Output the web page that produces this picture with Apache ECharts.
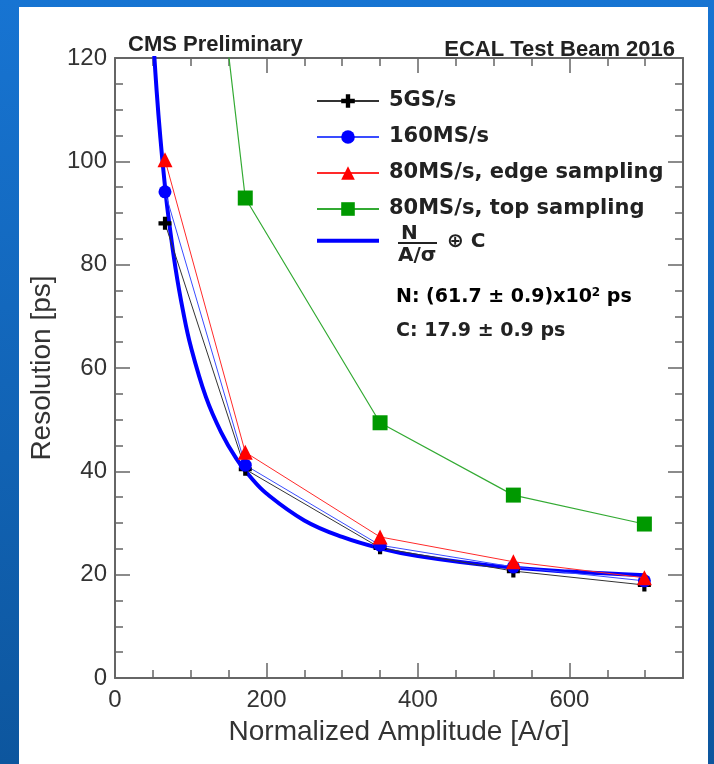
<!DOCTYPE html>
<html>
<head>
    <title></title>
    <meta charset="UTF-8">
    <script type="text/javascript" src="https://cdn.jsdelivr.net/npm/echarts@6/dist/echarts.min.js"></script>
    <style type="text/css">
        body {
            margin: 0;
            width: 714px;
            height: 764px;
            overflow: hidden;
            background: linear-gradient(to bottom, #1774d2, #0d569e);
        }
        #panel {
            position: absolute;
            left: 19px;
            top: 7px;
            width: 689px;
            height: 757px;
            background: #fff;
        }
        #res_chart {
            position: absolute;
            left: 0;
            top: 0;
            width: 714px;
            height: 764px;
        }
    </style>
</head>
<body>
<div id="panel"></div>
<div id="res_chart"></div>

<script type="text/javascript">
    // points
    var ampX = [66, 172, 350, 526, 699];
    var res5GS = [88.0, 40.4, 25.2, 20.7, 18.0];
    var res160MS = [94.1, 41.2, 25.7, 21.5, 18.8];
    var res80Edge = [100.3, 43.7, 27.3, 22.5, 19.4];
    var res80Top = [227, 92.9, 49.4, 35.4, 29.8];   // first one is off the top

    // the fitted curve, read along its length
    var fitX = [50, 55, 60, 65, 70, 80, 90, 100, 120, 140, 160, 180, 200, 250, 300, 350, 400, 500, 600, 700];
    var fitY = [124.7, 113.6, 104.4, 96.6, 89.9, 79.2, 70.9, 64.2, 54.4, 47.6, 42.5, 38.7, 35.7, 30.5, 27.3, 25.1, 23.6, 21.7, 20.6, 19.9];

    var xMajor = [0, 200, 400, 600];
    var xMinor = [50, 100, 150, 250, 300, 350, 450, 500, 550, 650, 700];

    function pairs(xs, ys) {
        return xs.map(function (x, i) { return [x, ys[i]]; });
    }

    var axisCol = '#666';
    var plus = 'path://M3.4,0H6.6V3.4H10V6.6H6.6V10H3.4V6.6H0V3.4H3.4Z';

    function xAx(pos, major, label) {
        return {
            type: 'value', position: pos, min: 0, max: 750, interval: major ? 200 : 50,
            axisLine: {show: major, onZero: false, lineStyle: {color: axisCol, width: 2}},
            axisTick: {inside: true, length: major ? 15 : 8, customValues: major ? xMajor : xMinor,
                lineStyle: {color: axisCol, width: 1.5}},
            axisLabel: {show: label, customValues: xMajor, margin: 10, color: '#333',
                fontFamily: 'Liberation Sans', fontSize: 24},
            splitLine: {show: false}
        };
    }

    function yAx(pos, label) {
        return {
            type: 'value', position: pos, min: 0, max: 120, interval: 20,
            axisLine: {show: true, onZero: false, lineStyle: {color: axisCol, width: 2}},
            axisTick: {inside: true, length: 15, lineStyle: {color: axisCol, width: 1.5}},
            minorTick: {show: true, splitNumber: 4, length: 8, lineStyle: {color: axisCol, width: 1.5}},
            axisLabel: {show: label, margin: 8, color: '#333', fontFamily: 'Liberation Sans', fontSize: 24},
            splitLine: {show: false}
        };
    }

    var xAxes = [xAx('bottom', true, true), xAx('bottom', false, false), xAx('top', true, false), xAx('top', false, false)];
    xAxes[0].name = 'Normalized Amplitude [A/\u03c3]';
    xAxes[0].nameLocation = 'middle';
    xAxes[0].nameGap = 40;
    xAxes[0].nameTextStyle = {color: '#333', fontFamily: 'Liberation Sans', fontSize: 28};

    var yAxes = [yAx('left', true), yAx('right', false)];
    yAxes[0].name = 'Resolution [ps]';
    yAxes[0].nameLocation = 'middle';
    yAxes[0].nameGap = 54;
    yAxes[0].nameTextStyle = {color: '#333', fontFamily: 'Liberation Sans', fontSize: 28};

    var legFont = {fontFamily: 'DejaVu Sans', fontWeight: 'bold', fill: '#222'};

    var myChart = echarts.init(document.getElementById('res_chart'));
    myChart.setOption({
        animation: false,
        backgroundColor: 'transparent',
        title: [
            {text: 'CMS Preliminary', left: 123, top: 29,
                textStyle: {fontFamily: 'Liberation Sans', fontWeight: 'bold', fontSize: 22, color: '#222'}},
            {text: 'ECAL Test Beam 2016', right: 34, top: 34,
                textStyle: {fontFamily: 'Liberation Sans', fontWeight: 'bold', fontSize: 22, color: '#222'}}
        ],
        grid: {left: 115, right: 31, top: 58, bottom: 86},
        legend: {
            orient: 'vertical', left: 310, top: 85,
            itemWidth: 62, itemHeight: 17, itemGap: 14,
            data: ['5GS/s', '160MS/s', '80MS/s, edge sampling', '80MS/s, top sampling',
                {name: 'fit', itemStyle: {opacity: 0}, lineStyle: {width: 4}}],
            formatter: function (n) { return n === 'fit' ? '' : n; },
            textStyle: {fontFamily: 'DejaVu Sans', fontWeight: 'bold', fontSize: 21, lineHeight: 22,
                color: '#222', padding: [0, 0, 0, 5]}
        },
        xAxis: xAxes,
        yAxis: yAxes,
        graphic: [
            {type: 'text', left: 401, top: 224, style: Object.assign({text: 'N', fontSize: 20}, legFont)},
            {type: 'line', shape: {x1: 398, y1: 243, x2: 437, y2: 243}, style: {stroke: '#222', lineWidth: 2}},
            {type: 'text', left: 398, top: 246, style: Object.assign({text: 'A/\u03c3', fontSize: 20}, legFont)},
            {type: 'text', left: 447, top: 232, style: Object.assign({text: '\u2295 C', fontSize: 20}, legFont)},
            {type: 'text', left: 396, top: 287, style: {
                text: '{m|N: (61.7 \u00b1 0.9)x10}{s|2}{m| ps}',
                rich: {
                    m: {fontFamily: 'DejaVu Sans', fontWeight: 'bold', fontSize: 19, color: '#222'},
                    s: {fontFamily: 'DejaVu Sans', fontWeight: 'bold', fontSize: 12, color: '#222', verticalAlign: 'top', padding: [0, 0, 8, 0]}
                }}},
            {type: 'text', left: 396, top: 322, style: Object.assign({text: 'C: 17.9 \u00b1 0.9 ps', fontSize: 19}, legFont)}
        ],
        series: [
            {
                name: 'fit', type: 'line', data: pairs(fitX, fitY), smooth: 0.4,
                showSymbol: false, symbol: 'none', lineStyle: {color: '#0000ff', width: 4}, itemStyle: {color: '#0000ff'}, z: 2
            },
            {
                name: '5GS/s', type: 'line', data: pairs(ampX, res5GS), symbol: plus, symbolSize: 13,
                itemStyle: {color: '#000'}, lineStyle: {color: '#333', width: 1}, z: 3
            },
            {
                name: '160MS/s', type: 'line', data: pairs(ampX, res160MS), symbol: 'circle', symbolSize: 13,
                itemStyle: {color: '#0000ff'}, lineStyle: {color: '#3a4cff', width: 1}, z: 3
            },
            {
                name: '80MS/s, edge sampling', type: 'line', data: pairs(ampX, res80Edge), symbol: 'triangle', symbolSize: 15,
                itemStyle: {color: '#ff0000'}, lineStyle: {color: '#ff2a2a', width: 1}, z: 4
            },
            {
                name: '80MS/s, top sampling', type: 'line', data: pairs(ampX, res80Top), symbol: 'rect', symbolSize: 15,
                itemStyle: {color: '#009900'}, lineStyle: {color: '#33aa33', width: 1.2}, z: 4
            }
        ]
    });
</script>
</body>
</html>
